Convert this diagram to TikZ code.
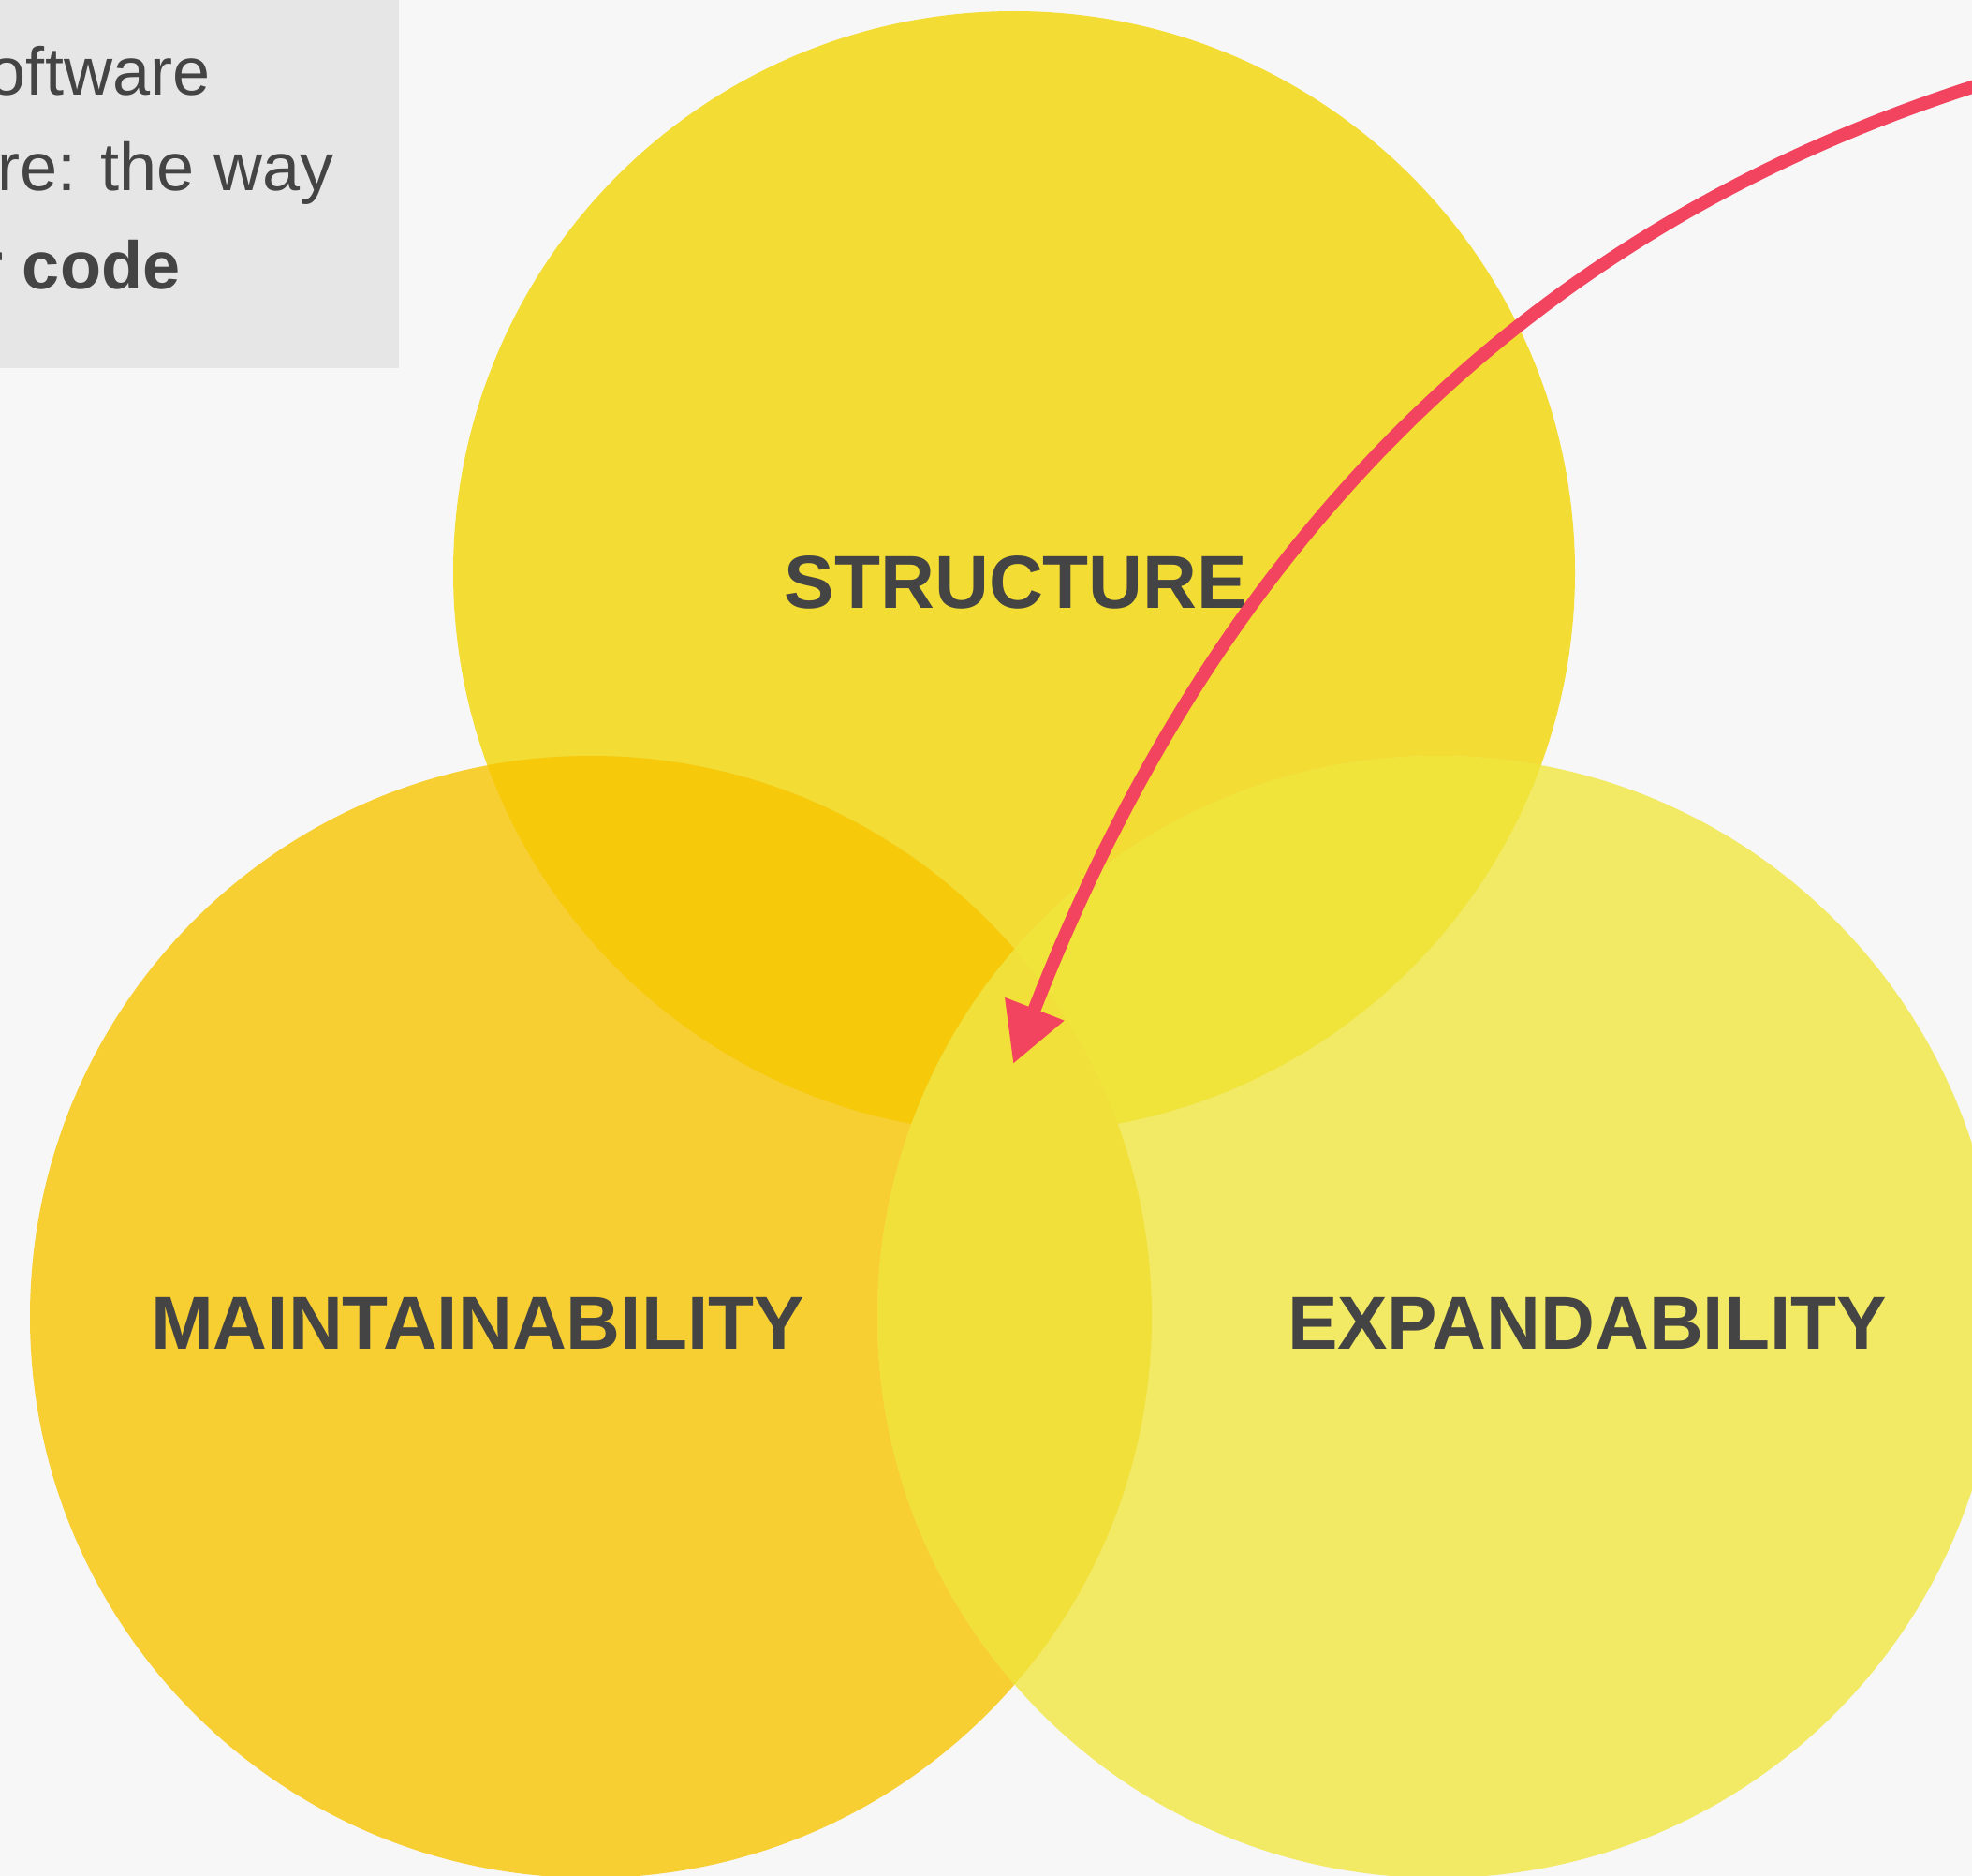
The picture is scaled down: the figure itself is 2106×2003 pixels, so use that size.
\documentclass[tikz,border=0pt]{standalone}
\usepackage{fontspec}
\setmainfont{Liberation Sans}
\usetikzlibrary{arrows.meta}
\usepackage{xcolor}
% Colors
\definecolor{bgGrey}{HTML}{F7F7F7}
\definecolor{boxGrey}{HTML}{E6E6E6}
\definecolor{textGrey}{HTML}{444444}
\definecolor{cTop}{HTML}{F3DC33}
\definecolor{cLeft}{HTML}{F7CF33}
\definecolor{cRight}{HTML}{F2E964}
\definecolor{cTopLeft}{HTML}{F6C90B}
\definecolor{cTopRight}{HTML}{F0E43B}
\definecolor{cLeftRight}{HTML}{F2E03A}
\definecolor{arrowRed}{HTML}{F2435F}
\tikzset{
    % Texts
    lbl/.style={font=\bfseries\fontsize{22.8}{27}\selectfont, text=textGrey,
                anchor=base, inner sep=0pt},
    note/.style={font=\fontsize{20.5}{24}\selectfont, text=textGrey,
                 anchor=base east, inner sep=0pt},
    % Flow
    flow/.style={-{Triangle[length=0.63cm, width=0.64cm]}, line width=0.14cm, arrowRed}
}

\begin{document}
\begin{tikzpicture}[x=0.01cm, y=-0.01cm]

\useasboundingbox (0,0) rectangle (2106,2003);
\clip (0,0) rectangle (2106,2003);
\fill[bgGrey] (0,0) rectangle (2106,2003);

% note box
\fill[boxGrey] (0,0) rectangle (426,393);
\node[note] (note1) at (225,102) {oftware};
\node[note] (note2) at (357,204) {ure: the way};
\node[note, font=\bfseries\fontsize{20.5}{24}\selectfont] (note3) at (193,308) {r code};

% circles
\coordinate (topc) at (1083,611);
\coordinate (leftc) at (631,1406);
\coordinate (rightc) at (1536,1406);

\fill[cTop] (topc) circle[radius=599];
\fill[cLeft] (leftc) circle[radius=599];
\fill[cRight] (rightc) circle[radius=599];
\begin{scope}
  \clip (topc) circle[radius=599];
  \fill[cTopLeft] (leftc) circle[radius=599];
  \fill[cTopRight] (rightc) circle[radius=599];
\end{scope}
\begin{scope}
  \clip (leftc) circle[radius=599];
  \fill[cLeftRight] (rightc) circle[radius=599];
\end{scope}

\node[lbl] (structure) at (1085,649) {STRUCTURE};
\node[lbl] (maint) at (510,1440) {MAINTAINABILITY};
\node[lbl] (expand) at (1695,1440) {EXPANDABILITY};

% arrow
\coordinate (arrowstart) at (2125,87);
\coordinate (arrowtip) at (1082,1136);
\draw[flow] (arrowstart) .. controls (1600,250) and (1285,614) .. (arrowtip);

\end{tikzpicture}
\end{document}
